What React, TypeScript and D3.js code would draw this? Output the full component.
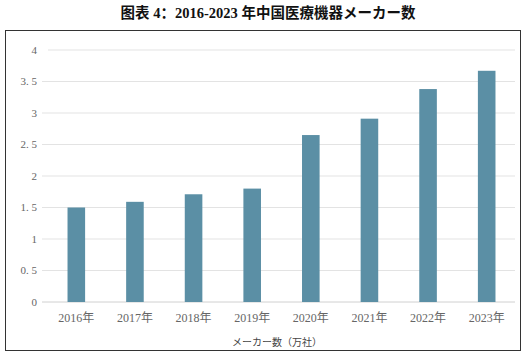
import React from "react";
import * as d3 from "d3";

const categories = ["2016年", "2017年", "2018年", "2019年", "2020年", "2021年", "2022年", "2023年"];
const values = [1.5, 1.59, 1.71, 1.8, 2.65, 2.91, 3.38, 3.67];
const yTicks = [0, 0.5, 1, 1.5, 2, 2.5, 3, 3.5, 4];
const title = "图表 4：2016-2023 年中国医療機器メーカー数";
const axisTitle = "メーカー数（万社）";

export default function App() {
  const W = 528, H = 356;
  const x = d3.scaleBand<string>().domain(categories).range([47, 516]).paddingInner(0.7).paddingOuter(0.35);
  const y = d3.scaleLinear().domain([0, 4]).range([302, 50]);
  const fmt = (v: number) => (Number.isInteger(v) ? String(v) : String(v).replace(".", ". "));
  return (
    <svg width={W} height={H} style={{ position: "absolute", left: 0, top: 0 }}>
      <rect x={0} y={0} width={W} height={H} fill="#fff" />
      <text x={268} y={18} textAnchor="middle" fontSize={14.5} fontWeight="bold"
        fontFamily="'Liberation Serif', 'Noto Sans CJK SC', serif" fill="#111">{title}</text>
      <rect x={5.5} y={30.5} width={515} height={320} fill="none" stroke="#333" strokeWidth={1} />
      {yTicks.map((t) => (
        <g key={t}>
          <line x1={t === 4 ? 48 : 42} x2={515} y1={y(t)} y2={y(t)} stroke={t === 0 ? "#d0d0d0" : "#e3e3e3"} strokeWidth={1} />
          <text x={37} y={y(t)} dy="0.35em" textAnchor="end" fontSize={11}
            fontFamily="'Liberation Serif', serif" fill="#666">{fmt(t)}</text>
        </g>
      ))}
      {categories.map((c, i) => (
        <rect key={c} x={x(c)} y={y(values[i])} width={x.bandwidth()} height={y(0) - y(values[i])} fill="#5b8fa5" />
      ))}
      {categories.map((c) => (
        <text key={c} x={(x(c) as number) + x.bandwidth() / 2} y={318} dy="0.35em" textAnchor="middle" fontSize={12}
          fontFamily="'Liberation Serif', 'Noto Sans CJK SC', serif" fill="#666">{c}</text>
      ))}
      <text x={277} y={342} dy="0.35em" textAnchor="middle" fontSize={10}
        fontFamily="'Noto Sans CJK JP', sans-serif" fill="#444">{axisTitle}</text>
    </svg>
  );
}
